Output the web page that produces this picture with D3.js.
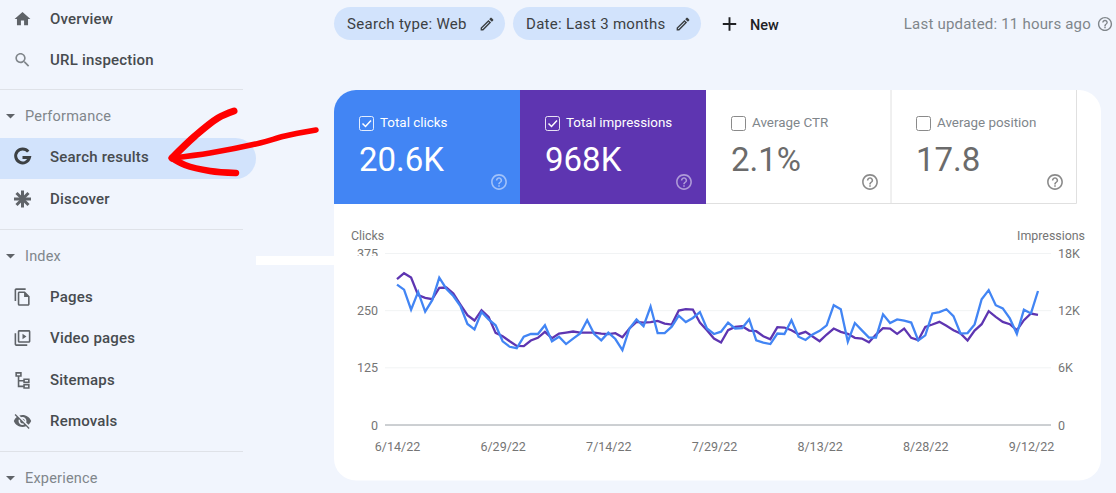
<!DOCTYPE html>
<html>
<head>
<meta charset="utf-8">
<script src="https://cdn.jsdelivr.net/npm/d3@7"></script>
<style>
    html, body { margin: 0; padding: 0; background: #f1f5fd; overflow: hidden; }
    svg { display: block; font-family: Roboto, sans-serif; }
    .nav-label { font-size: 15px; font-weight: 500; fill: #474b4f; letter-spacing: .2px; }
    .section-label { font-size: 14.5px; fill: #80868b; letter-spacing: .2px; }
    .chip-label { font-size: 15px; fill: #3c4043; letter-spacing: .3px; }
    .axis text { font-family: Roboto, sans-serif; font-size: 12.5px; fill: #757575; }
    .axis path.domain { display: none; }
    .axis-title { font-size: 12.4px; fill: #757575; }
</style>
</head>
<body>
<div id="chart"></div>
<script>
// Chart data
const startDate = "2022-06-14";
const xTickLabels = ["6/14/22", "6/29/22", "7/14/22", "7/29/22", "8/13/22", "8/28/22", "9/12/22"];
const clickTicks = [0, 125, 250, 375];
const impressionTicks = [0, 6000, 12000, 18000];

const clicks = [
    307, 296, 252, 291, 248, 273, 322, 298, 282, 260, 221, 209, 247, 231, 218, 183,
    171, 168, 193, 199, 199, 218, 183, 193, 177, 189, 200, 229, 199, 185, 202, 188,
    164, 211, 231, 216, 259, 201, 201, 215, 239, 225, 234, 247, 211, 199, 204, 224,
    211, 212, 231, 185, 180, 177, 200, 199, 229, 193, 186, 198, 206, 218, 262, 253,
    182, 223, 207, 191, 191, 242, 223, 231, 228, 224, 185, 196, 244, 247, 253, 238,
    200, 201, 220, 275, 295, 262, 255, 233, 199, 252, 244, 293
];
const impressions = [
    15305, 15935, 15480, 13625, 13345, 13205, 14395, 14430, 13800, 12645, 11525, 10965,
    12050, 11350, 9670, 9320, 8795, 8305, 8270, 8865, 9145, 9775, 9110, 9600,
    9705, 9810, 9705, 9705, 9705, 9600, 9530, 9635, 9215, 10125, 10825, 10755,
    10790, 10930, 10650, 10545, 12015, 12155, 12120, 10755, 9950, 9075, 8655, 9950,
    10300, 10370, 9915, 9845, 9320, 9005, 10265, 10230, 9950, 9530, 9775, 9285,
    8795, 9495, 10125, 9775, 9565, 9145, 9075, 8690, 9495, 10160, 10125, 9565,
    10125, 9145, 8900, 10300, 10545, 10825, 10405, 9950, 9600, 8865, 9915, 10580,
    11945, 11350, 10825, 10580, 9950, 11000, 11700, 11560
];

// Scorecards and page text
const cardTitles = ["Total clicks", "Total impressions", "Average CTR", "Average position"];
const cardValues = ["20.6K", "968K", "2.1%", "17.8"];
const chipLabels = ["Search type: Web", "Date: Last 3 months"];
const navLabels = ["Overview", "URL inspection", "Search results", "Discover", "Pages", "Video pages", "Sitemaps", "Removals"];
const sectionLabels = ["Performance", "Index", "Experience"];

// Material icon paths
const icons = {
    home: "M10 20v-6h4v6h5v-8h3L12 3 2 12h3v8z",
    search: "M15.5 14h-.79l-.28-.27C15.41 12.59 16 11.11 16 9.5 16 5.91 13.09 3 9.5 3S3 5.91 3 9.5 5.91 16 9.5 16c1.61 0 3.09-.59 4.23-1.57l.27.28v.79l5 4.99L20.49 19l-4.99-5zm-6 0C7.01 14 5 11.99 5 9.5S7.01 5 9.5 5 14 7.01 14 9.5 11.99 14 9.5 14z",
    edit: "M3 17.25V21h3.75L17.81 9.94l-3.75-3.75L3 17.25zM5.92 19H5v-.92l9.06-9.06.92.92L5.92 19zM20.71 5.63l-2.34-2.34c-.2-.2-.45-.29-.71-.29s-.51.1-.7.29l-1.83 1.83 3.75 3.75 1.83-1.83c.39-.39.39-1.02 0-1.41z",
    help: "M11 18h2v-2h-2v2zm1-16C6.48 2 2 6.48 2 12s4.48 10 10 10 10-4.48 10-10S17.52 2 12 2zm0 18c-4.41 0-8-3.59-8-8s3.59-8 8-8 8 3.59 8 8-3.59 8-8 8zm0-14c-2.21 0-4 1.79-4 4h2c0-1.1.9-2 2-2s2 .9 2 2c0 2-3 1.75-3 5h2c0-2.25 3-2.5 3-5 0-2.21-1.79-4-4-4z",
    add: "M19 13h-6v6h-2v-6H5v-2h6V5h2v6h6v2z",
    pages: "M16 1H4c-1.1 0-2 .9-2 2v14h2V3h12V1zm-1 4H8c-1.1 0-1.99.9-1.99 2L6 21c0 1.1.89 2 1.99 2H19c1.1 0 2-.9 2-2V11l-6-6zM8 21V7h6v5h5v9H8z",
    video: "M4 6H2v14c0 1.1.9 2 2 2h14v-2H4V6zm16-4H8c-1.1 0-2 .9-2 2v12c0 1.1.9 2 2 2h12c1.1 0 2-.9 2-2V4c0-1.1-.9-2-2-2zm0 14H8V4h12v12zM12 6.5v7l5-3.5z",
    sitemap: "M3 2h8v6H8v4h5v-2h8v6h-8v-2H8v5h5v-2h8v6h-8v-2H6V8H3V2zm2 2v2h4V4H5zm10 8v2h4v-2h-4zm0 7v2h4v-2h-4z",
    eyeOff: "M12 7c2.76 0 5 2.24 5 5 0 .65-.13 1.26-.36 1.83l2.92 2.92c1.51-1.26 2.7-2.89 3.43-4.75-1.73-4.39-6-7.5-11-7.5-1.4 0-2.74.25-3.98.7l2.16 2.16C10.74 7.13 11.35 7 12 7zM2 4.27l2.28 2.28.46.46C3.08 8.3 1.78 10.02 1 12c1.73 4.39 6 7.5 11 7.5 1.55 0 3.03-.3 4.38-.84l.42.42L19.73 22 21 20.73 3.27 3 2 4.27zM7.53 9.8l1.55 1.55c-.05.21-.08.43-.08.65 0 1.66 1.34 3 3 3 .22 0 .44-.03.65-.08l1.55 1.55c-.67.33-1.41.53-2.2.53-2.76 0-5-2.24-5-5 0-.79.2-1.53.53-2.2zm4.31-.78l3.15 3.15.02-.16c0-1.66-1.34-3-3-3l-.17.01z"
};

const width = 1116, height = 493;
const blue = "#4285f4", purple = "#5e35b1";

const svg = d3.select("#chart").append("svg")
    .attr("width", width)
    .attr("height", height);

function drawIcon(parent, name, cx, cy, size, color) {
    const k = size / 24;
    parent.append("path")
        .attr("d", icons[name])
        .attr("fill", color)
        .attr("transform", `translate(${cx - size / 2},${cy - size / 2}) scale(${k})`);
}

// ---- Sidebar ----
const nav = svg.append("g");

nav.append("path")
    .attr("d", "M0 138H235.5a20.5 20.5 0 0 1 0 41H0z")
    .attr("fill", "#d2e3fc");

[89.5, 229.5, 451.5].forEach(y => {
    nav.append("line").attr("x1", 0).attr("x2", 243).attr("y1", y).attr("y2", y)
        .attr("stroke", "#dfe2e8");
});

const navY = [19, 60, 157, 199, 297, 338, 380, 421];
const navIcons = ["home", "search", null, null, "pages", "video", "sitemap", "eyeOff"];
const navIconColor = ["#5f6368", "#80868b", null, null, "#5f6368", "#5f6368", "#5f6368", "#5f6368"];

navLabels.forEach((label, i) => {
    nav.append("text").attr("class", "nav-label")
        .attr("x", 50).attr("y", navY[i]).attr("dy", ".35em").text(label);
    if (navIcons[i]) drawIcon(nav, navIcons[i], 22.5, navY[i], 19, navIconColor[i]);
});

// Google "G" icon: open ring with a bar, then the Discover asterisk
nav.append("path")
    .attr("d", "M28.2 151.6A7 7 0 1 0 29.5 157.5H22.5")
    .attr("fill", "none")
    .attr("stroke", "#3c4043")
    .attr("stroke-width", 3);

[0, 45, 90, 135].forEach(a => {
    nav.append("line")
        .attr("x1", -8.5).attr("x2", 8.5)
        .attr("transform", `translate(22.5,199) rotate(${a})`)
        .attr("stroke", "#5f6368").attr("stroke-width", 3);
});

const sectionY = [116, 256, 478];
sectionLabels.forEach((label, i) => {
    nav.append("text").attr("class", "section-label")
        .attr("x", 25).attr("y", sectionY[i]).attr("dy", ".35em").text(label);
    nav.append("path")
        .attr("d", `M6 ${sectionY[i] - 2}h9l-4.5 4.5z`)
        .attr("fill", "#5f6368");
});

// Stray white strip left over in the screenshot
svg.append("rect").attr("x", 256).attr("y", 256).attr("width", 80).attr("height", 9).attr("fill", "#fff");

// ---- Top bar ----
const chipBoxes = [[334, 171], [513, 188]];
chipLabels.forEach((label, i) => {
    const [x, w] = chipBoxes[i];
    svg.append("rect").attr("x", x).attr("y", 7).attr("width", w).attr("height", 33)
        .attr("rx", 16.5).attr("fill", "#d2e3fc");
    svg.append("text").attr("class", "chip-label")
        .attr("x", x + 13).attr("y", 24).attr("dy", ".35em").text(label);
    drawIcon(svg, "edit", x + w - 18, 24, 17, "#3c4043");
});

drawIcon(svg, "add", 729.5, 24, 23, "#202124");
svg.append("text").attr("x", 750).attr("y", 24.5).attr("dy", ".35em")
    .attr("font-size", 14.5).attr("font-weight", 500).attr("fill", "#202124").text("New");

svg.append("text").attr("x", 1091).attr("y", 24).attr("dy", ".35em")
    .attr("text-anchor", "end")
    .attr("font-size", 15).attr("fill", "#80868b").attr("letter-spacing", ".2px")
    .text("Last updated: 11 hours ago");
drawIcon(svg, "help", 1105, 24, 17, "#80868b");

// ---- Card and scorecards ----
svg.append("rect").attr("x", 334).attr("y", 90).attr("width", 767).attr("height", 390.5)
    .attr("rx", 22).attr("fill", "#fff");

const tileX = [334, 520, 706, 891];
const helpX = [499, 684, 870, 1055];
const tileW = 186;

svg.append("path")
    .attr("d", "M334 204V112a22 22 0 0 1 22 -22H520V204z")
    .attr("fill", blue);
svg.append("rect").attr("x", 520).attr("y", 90).attr("width", tileW).attr("height", 114).attr("fill", purple);

// borders around the two unselected tiles
svg.append("path")
    .attr("d", "M706 203.5H1076.5V90M891 90V203.5")
    .attr("fill", "none").attr("stroke", "#e0e0e0").attr("stroke-width", 1);

cardTitles.forEach((title, i) => {
    const selected = i < 2;
    const x = tileX[i] + 25;
    const g = svg.append("g");
    g.append("rect").attr("x", x + .5).attr("y", 116.5).attr("width", 14).attr("height", 14)
        .attr("rx", 2).attr("fill", "none")
        .attr("stroke", selected ? "#fff" : "#8a8a8a")
        .attr("stroke-opacity", selected ? .85 : 1);
    if (selected) {
        g.append("path")
            .attr("d", `M${x + 3.5} ${123.5}l3 3 5.5 -6`)
            .attr("fill", "none").attr("stroke", "#fff").attr("stroke-width", 1.5);
    }
    g.append("text")
        .attr("x", x + 21).attr("y", 127)
        .attr("font-size", 13.4)
        .attr("fill", selected ? "#fff" : "#80868b")
        .text(title);
    g.append("text")
        .attr("x", x).attr("y", 171)
        .attr("font-size", 33)
        .attr("fill", selected ? "#fff" : "#6b6b6b")
        .text(cardValues[i]);
    g.append("g").attr("opacity", selected ? .5 : 1).call(sel =>
        drawIcon(sel, "help", helpX[i], 182, 19, selected ? "#fff" : "#8a8a8a"));
});

// ---- Chart ----
const parseDay = d3.utcParse("%Y-%m-%d");
const dates = clicks.map((d, i) => d3.utcDay.offset(parseDay(startDate), i));

const xScale = d3.scaleUtc()
    .domain(d3.extent(dates))
    .range([397, 1038]);

const yClicks = d3.scaleLinear()
    .domain(d3.extent(clickTicks))
    .range([425, 253.5]);

const yImpressions = d3.scaleLinear()
    .domain(d3.extent(impressionTicks))
    .range([425, 253.5]);

// Gridlines
svg.selectAll(".grid")
    .data(clickTicks)
    .enter()
    .append("line")
    .attr("class", "grid")
    .attr("x1", 385).attr("x2", 1051)
    .attr("y1", d => yClicks(d)).attr("y2", d => yClicks(d))
    .attr("stroke", d => d === 0 ? "#9aa0a6" : "#f1f3f4");

// Axes
const xTicks = xTickLabels.map(d3.utcParse("%-m/%-d/%y"));

svg.append("g")
    .attr("class", "axis")
    .attr("transform", "translate(0,425)")
    .call(d3.axisBottom(xScale)
        .tickValues(xTicks)
        .tickFormat(d3.utcFormat("%-m/%-d/%y"))
        .tickSize(0)
        .tickPadding(17));

svg.append("g")
    .attr("class", "axis")
    .attr("transform", "translate(385,0)")
    .call(d3.axisLeft(yClicks)
        .tickValues(clickTicks)
        .tickSize(0)
        .tickPadding(7));

// the top left label is cut off at its foot in the screenshot
svg.append("rect").attr("x", 354).attr("y", 256).attr("width", 26).attr("height", 5).attr("fill", "#fff");

svg.append("g")
    .attr("class", "axis")
    .attr("transform", "translate(1051,0)")
    .call(d3.axisRight(yImpressions)
        .tickValues(impressionTicks)
        .tickFormat(d => d === 0 ? "0" : d / 1000 + "K")
        .tickSize(0)
        .tickPadding(7));

svg.append("text").attr("class", "axis-title")
    .attr("x", 351).attr("y", 240).text("Clicks");
svg.append("text").attr("class", "axis-title")
    .attr("x", 1085).attr("y", 240).attr("text-anchor", "end").text("Impressions");

// Lines, purple goes under blue
const impressionLine = d3.line()
    .x((d, i) => xScale(dates[i]))
    .y(d => yImpressions(d));

const clickLine = d3.line()
    .x((d, i) => xScale(dates[i]))
    .y(d => yClicks(d));

svg.append("path")
    .attr("d", impressionLine(impressions))
    .attr("fill", "none").attr("stroke", purple).attr("stroke-width", 2.3);

svg.append("path")
    .attr("d", clickLine(clicks))
    .attr("fill", "none").attr("stroke", blue).attr("stroke-width", 2.3);

// ---- Red hand-drawn arrow ----
const arrowLine = d3.line().curve(d3.curveCatmullRom);
const arrowStrokes = [
    [[172, 158], [195, 136], [218, 118], [234, 111]],
    [[172, 158], [210, 153], [260, 143], [285, 136], [316, 130]],
    [[172, 158], [185, 165], [210, 171], [236, 173]]
];
const arrowWidths = [7, 5.5, 6.5];
arrowStrokes.forEach((points, i) => {
    svg.append("path")
        .attr("d", arrowLine(points))
        .attr("fill", "none")
        .attr("stroke", "#f00")
        .attr("stroke-width", arrowWidths[i])
        .attr("stroke-linecap", "round");
});
</script>
</body>
</html>
